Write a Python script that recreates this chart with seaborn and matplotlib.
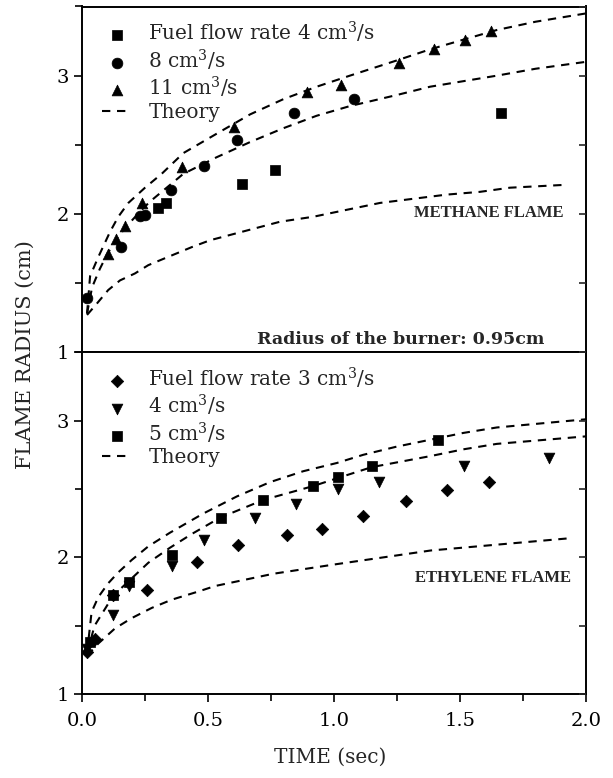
import numpy as np
import matplotlib
matplotlib.use("Agg")
import matplotlib.pyplot as plt
import seaborn as sns
from matplotlib.ticker import MultipleLocator, FormatStrFormatter

# ---------------- data ----------------
# Methane flame (top panel)
m4_t = [0.30, 0.333, 0.634, 0.766, 1.661]
m4_r = [2.04, 2.08, 2.22, 2.32, 2.73]
m8_t = [0.019, 0.155, 0.232, 0.25, 0.352, 0.484, 0.616, 0.843, 1.079]
m8_r = [1.395, 1.76, 1.985, 1.995, 2.17, 2.35, 2.535, 2.73, 2.83]
m11_t = [0.102, 0.134, 0.171, 0.237, 0.398, 0.603, 0.892, 1.027, 1.259, 1.398, 1.52, 1.623]
m11_r = [1.71, 1.82, 1.91, 2.08, 2.34, 2.63, 2.88, 2.935, 3.09, 3.19, 3.26, 3.32]

mth_up_t = [0.02, 0.032, 0.065, 0.111, 0.144, 0.184, 0.25, 0.316, 0.402, 0.534, 0.667, 0.799, 0.931, 1.063, 1.249, 1.381, 1.513, 1.646, 1.8, 2.0]
mth_up_r = [1.28, 1.55, 1.69, 1.87, 1.98, 2.08, 2.19, 2.29, 2.44, 2.58, 2.72, 2.83, 2.92, 3.00, 3.11, 3.19, 3.26, 3.33, 3.39, 3.45]
mth_mid_t = [0.02, 0.04, 0.07, 0.10, 0.134, 0.171, 0.237, 0.27, 0.402, 0.534, 0.667, 0.799, 0.931, 1.063, 1.249, 1.381, 1.513, 1.646, 1.8, 2.0]
mth_mid_r = [1.28, 1.47, 1.60, 1.71, 1.81, 1.90, 2.03, 2.09, 2.29, 2.41, 2.52, 2.62, 2.71, 2.78, 2.86, 2.92, 2.96, 3.00, 3.05, 3.10]
mth_low_t = [0.02, 0.058, 0.104, 0.151, 0.21, 0.263, 0.329, 0.435, 0.508, 0.786, 0.918, 1.05, 1.183, 1.315, 1.447, 1.579, 1.698, 1.91]
mth_low_r = [1.27, 1.35, 1.45, 1.52, 1.57, 1.63, 1.68, 1.76, 1.81, 1.944, 1.98, 2.03, 2.08, 2.11, 2.14, 2.16, 2.19, 2.21]

# Ethylene flame (bottom panel)
e3_t = [0.019, 0.052, 0.124, 0.257, 0.455, 0.62, 0.815, 0.951, 1.116, 1.286, 1.447, 1.615]
e3_r = [1.31, 1.40, 1.725, 1.76, 1.965, 2.09, 2.16, 2.21, 2.30, 2.41, 2.49, 2.55]
e4_t = [0.02, 0.124, 0.188, 0.356, 0.485, 0.687, 0.849, 1.015, 1.18, 1.516, 1.852]
e4_r = [1.33, 1.58, 1.79, 1.94, 2.13, 2.29, 2.39, 2.50, 2.55, 2.665, 2.73]
e5_t = [0.03, 0.124, 0.188, 0.356, 0.552, 0.72, 0.915, 1.015, 1.15, 1.414]
e5_r = [1.38, 1.725, 1.82, 2.02, 2.29, 2.42, 2.52, 2.59, 2.665, 2.86]

eth_up_t = [0.02, 0.038, 0.065, 0.104, 0.144, 0.197, 0.263, 0.349, 0.481, 0.614, 0.746, 0.878, 1.011, 1.116, 1.249, 1.381, 1.513, 1.646, 2.0]
eth_up_r = [1.30, 1.60, 1.71, 1.81, 1.89, 1.98, 2.08, 2.18, 2.32, 2.445, 2.55, 2.63, 2.69, 2.75, 2.81, 2.86, 2.91, 2.95, 3.01]
eth_mid_t = [0.02, 0.05, 0.124, 0.188, 0.263, 0.349, 0.435, 0.548, 0.72, 0.915, 1.015, 1.15, 1.381, 1.513, 1.646, 2.0]
eth_mid_r = [1.30, 1.50, 1.72, 1.83, 1.96, 2.07, 2.17, 2.29, 2.42, 2.52, 2.58, 2.66, 2.74, 2.79, 2.83, 2.885]
eth_low_t = [0.02, 0.065, 0.131, 0.197, 0.277, 0.356, 0.462, 0.528, 0.76, 1.01, 1.384, 1.938]
eth_low_r = [1.28, 1.37, 1.48, 1.555, 1.63, 1.69, 1.75, 1.79, 1.88, 1.95, 2.05, 2.14]

top_labels = ["Fuel flow rate 4 cm$^3$/s", "8 cm$^3$/s", "11 cm$^3$/s", "Theory"]
bot_labels = ["Fuel flow rate 3 cm$^3$/s", "4 cm$^3$/s", "5 cm$^3$/s", "Theory"]
x_ticks = [0.0, 0.5, 1.0, 1.5, 2.0]
y_ticks = [1, 2, 3]

# ---------------- style ----------------
sns.set_style("ticks")
plt.rcParams["font.family"] = ["DejaVu Serif"]
plt.rcParams["mathtext.fontset"] = "dejavuserif"
plt.rcParams["axes.linewidth"] = 1.4

FS = 14.5
TFS = 14
DASH = (0, (4.0, 3.2))

fig = plt.figure(figsize=(6.13, 7.78), dpi=100)
W, H = 613.0, 778.0
x0, x1 = 82.0, 586.0
ax1 = fig.add_axes([x0 / W, 1 - 352.3 / H, (x1 - x0) / W, (352.3 - 6.5) / H])
ax2 = fig.add_axes([x0 / W, 1 - 694.0 / H, (x1 - x0) / W, (694.0 - 352.3) / H])


def theory(ax, t, r, label):
    sns.lineplot(x=t, y=r, ax=ax, color="black", lw=1.5, linestyle=DASH,
                 estimator=None, sort=False, label=label, legend=False)


def points(ax, t, r, marker, s, label):
    sns.scatterplot(x=t, y=r, ax=ax, marker=marker, s=s, color="black",
                    edgecolor="black", linewidth=0.5, label=label, legend=False)


points(ax1, m4_t, m4_r, "s", 55, top_labels[0])
points(ax1, m8_t, m8_r, "o", 60, top_labels[1])
points(ax1, m11_t, m11_r, "^", 60, top_labels[2])
theory(ax1, mth_up_t, mth_up_r, top_labels[3])
theory(ax1, mth_mid_t, mth_mid_r, "_nolegend_")
theory(ax1, mth_low_t, mth_low_r, "_nolegend_")

points(ax2, e3_t, e3_r, "D", 40, bot_labels[0])
points(ax2, e4_t, e4_r, "v", 60, bot_labels[1])
points(ax2, e5_t, e5_r, "s", 55, bot_labels[2])
theory(ax2, eth_up_t, eth_up_r, bot_labels[3])
theory(ax2, eth_mid_t, eth_mid_r, "_nolegend_")
theory(ax2, eth_low_t, eth_low_r, "_nolegend_")

for ax in (ax1, ax2):
    ax.set_xlim(0, 2.0)
    ax.set_ylim(1, 3.5)
    ax.set_xlabel("")
    ax.set_ylabel("")
    ax.xaxis.set_major_locator(MultipleLocator(0.5))
    ax.xaxis.set_minor_locator(MultipleLocator(0.25))
    ax.set_yticks(y_ticks)
    ax.yaxis.set_minor_locator(MultipleLocator(0.5))
    ax.tick_params(axis="both", which="both", direction="out", top=False,
                   right=False, labelsize=TFS, width=1.2, colors="black")
    ax.tick_params(axis="both", which="major", length=6)
    ax.tick_params(axis="both", which="minor", length=5)
    ax.tick_params(axis="x", which="major", pad=7)
    for sp in ax.spines.values():
        sp.set_visible(True)
        sp.set_color("black")
    # inward ticks on the right spine
    axr = ax.twinx()
    axr.set_ylim(1, 3.5)
    axr.set_yticks(y_ticks)
    axr.yaxis.set_minor_locator(MultipleLocator(0.5))
    axr.tick_params(axis="y", which="both", direction="in", length=5, width=1.2,
                    labelright=False)
    axr.set_ylabel("")
    for sp in axr.spines.values():
        sp.set_visible(False)

ax1.tick_params(axis="x", which="both", labelbottom=False)
ax2.set_xticks(x_ticks)
ax2.xaxis.set_major_formatter(FormatStrFormatter("%.1f"))

leg_kw = dict(loc="upper left", frameon=False, fontsize=FS, handlelength=1.5,
              handletextpad=0.8, labelspacing=0.12, borderaxespad=0.0,
              borderpad=0.4, markerscale=1.0)
ax1.legend(bbox_to_anchor=(0.024, 0.985), **leg_kw)
ax2.legend(bbox_to_anchor=(0.024, 0.985), **leg_kw)

ax1.text(1.91, 2.01, "METHANE FLAME", ha="right", va="center",
         fontsize=12, fontweight="bold", family=["Liberation Serif"])
ax1.text(0.694, 1.09, "Radius of the burner: 0.95cm", ha="left", va="center",
         fontsize=12.5, fontweight="bold")
ax2.text(1.94, 1.85, "ETHYLENE FLAME", ha="right", va="center",
         fontsize=12, fontweight="bold", family=["Liberation Serif"])

fig.text(330 / W, 1 - 757 / H, "TIME (sec)", ha="center", va="center", fontsize=FS)
fig.text(25 / W, 1 - 355 / H, "FLAME RADIUS (cm)", ha="center", va="center",
         rotation=90, fontsize=FS + 0.5)

fig.savefig("out.png", dpi=100)
